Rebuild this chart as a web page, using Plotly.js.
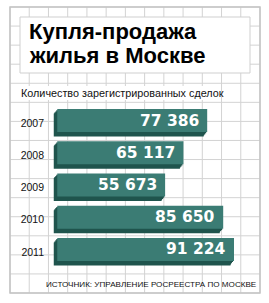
<!DOCTYPE html>
<html>
<head>
<meta charset="utf-8">
<script src="https://cdn.plot.ly/plotly-3.0.1.min.js"></script>
<style>html,body{margin:0;padding:0;background:#fff;}#chart{width:269px;height:303px;}</style>
</head>
<body>
<div id="chart"></div>
<script>
// ---- data ----
var years = ['2007', '2008', '2009', '2010', '2011'];
var deals = [77386, 65117, 55673, 85650, 91224];
var titleLines = ['Купля-продажа', 'жилья в Москве'];
var subtitle = 'Количество зарегистрированных сделок';
var source = 'ИСТОЧНИК: УПРАВЛЕНИЕ РОСРЕЕСТРА ПО МОСКВЕ';

// ---- geometry ----
var W = 269, H = 303;
var M = {l: 53, r: 18, t: 107, b: 35};
var PW = W - M.l - M.r, PH = H - M.t - M.b;
var XR = [-2200, 100000];
var unitsPerPx = (XR[1] - XR[0]) / PW;
var catPx = PH / years.length;
function px2x(px) { return (px - M.l) / PW; }
function px2y(py) { return 1 - (py - M.t) / PH; }

var FRONT = '#3b7c74', DARK = '#1f544d';
var faceH = 23, faceTop = -14; // px relative to category centre

function fmt(v) { return String(v).replace(/\B(?=(\d{3})+(?!\d))/g, ' '); }

var traces = [];
// extrusion layers (down-left), drawn as shifted copies
var steps = [[1, 1.2], [2, 2.4], [3, 3.5], [3.5, 4.5]];
steps.forEach(function (s) {
  traces.push({
    type: 'bar', orientation: 'h', y: years, x: deals,
    base: deals.map(function () { return -s[0] * unitsPerPx; }),
    offset: (faceTop + s[1]) / catPx, width: faceH / catPx,
    marker: {color: DARK, line: {width: 0}}, hoverinfo: 'skip', showlegend: false
  });
});
traces.push({
  type: 'bar', orientation: 'h', y: years, x: deals, base: 0,
  offset: faceTop / catPx, width: faceH / catPx,
  marker: {color: FRONT, line: {width: 0}}, hoverinfo: 'skip', showlegend: false
});

// ---- decorations ----
var shapes = [];
var GRID = '#d3d3d3';
var gx0 = 10, gx1 = 260, gy0 = 7, gy1 = 293;
for (var i = 0; i <= 13; i++) {
  var xx = gx0 + (gx1 - gx0) * i / 13;
  shapes.push({type: 'line', xref: 'paper', yref: 'paper', layer: 'below',
    x0: px2x(xx), x1: px2x(xx), y0: px2y(gy0), y1: px2y(gy1), line: {color: GRID, width: 1}});
}
for (var j = 0; j <= 15; j++) {
  var yy = gy0 + (gy1 - gy0) * j / 15;
  shapes.push({type: 'line', xref: 'paper', yref: 'paper', layer: 'below',
    x0: px2x(gx0), x1: px2x(gx1), y0: px2y(yy), y1: px2y(yy), line: {color: GRID, width: 1}});
}
// outer frame
shapes.push({type: 'rect', xref: 'paper', yref: 'paper', layer: 'below',
  x0: px2x(gx0), x1: px2x(gx1), y0: px2y(gy0), y1: px2y(gy1), line: {color: '#c4c4c4', width: 1.5}});
// title box
shapes.push({type: 'rect', xref: 'paper', yref: 'paper', layer: 'below',
  x0: px2x(20), x1: px2x(250), y0: px2y(17), y1: px2y(73), fillcolor: '#ffffff', line: {color: '#cfcfcf', width: 1}});
// subtitle white band
shapes.push({type: 'rect', xref: 'paper', yref: 'paper', layer: 'below',
  x0: px2x(11), x1: px2x(221), y0: px2y(86), y1: px2y(100), fillcolor: '#ffffff', line: {width: 0}});

var SANS = '"Liberation Sans", Arial, sans-serif';
var annotations = [];
annotations.push({xref: 'paper', yref: 'paper', x: px2x(27), y: px2y(31), xanchor: 'left', yanchor: 'middle',
  text: '<b>' + titleLines[0] + '</b>', showarrow: false, font: {family: SANS, size: 22, color: '#000'}});
annotations.push({xref: 'paper', yref: 'paper', x: px2x(27), y: px2y(55), xanchor: 'left', yanchor: 'middle',
  text: '<b>' + titleLines[1] + '</b>', showarrow: false, font: {family: SANS, size: 22, color: '#000'}});
annotations.push({xref: 'paper', yref: 'paper', x: px2x(19), y: px2y(93), xanchor: 'left', yanchor: 'middle',
  text: subtitle, showarrow: false, font: {family: SANS, size: 10.8, color: '#111'}});
annotations.push({xref: 'paper', yref: 'paper', x: px2x(151), y: px2y(284), xanchor: 'center', yanchor: 'middle',
  text: source, showarrow: false, font: {family: SANS, size: 8.1, color: '#111'}});
deals.forEach(function (v, k) {
  annotations.push({xref: 'x', yref: 'y', x: v, y: k, xanchor: 'right', yanchor: 'middle',
    xshift: -6, yshift: 2.5, text: '<b>' + fmt(v) + '</b>', showarrow: false,
    font: {family: 'DejaVu Sans, sans-serif', size: 15.5, color: '#ffffff'}});
});

var layout = {
  width: W, height: H, margin: M, paper_bgcolor: '#fff', plot_bgcolor: 'rgba(0,0,0,0)',
  barmode: 'overlay', showlegend: false,
  xaxis: {range: XR, visible: false, fixedrange: true},
  yaxis: {type: 'category', categoryarray: years, range: [years.length - 0.5, -0.5],
    showgrid: false, zeroline: false, showline: false, ticks: '', ticklabelstandoff: 8,
    tickfont: {family: SANS, size: 10.5, color: '#111'}, fixedrange: true},
  shapes: shapes, annotations: annotations
};
Plotly.newPlot('chart', traces, layout, {displayModeBar: false, staticPlot: true});
</script>
</body>
</html>
